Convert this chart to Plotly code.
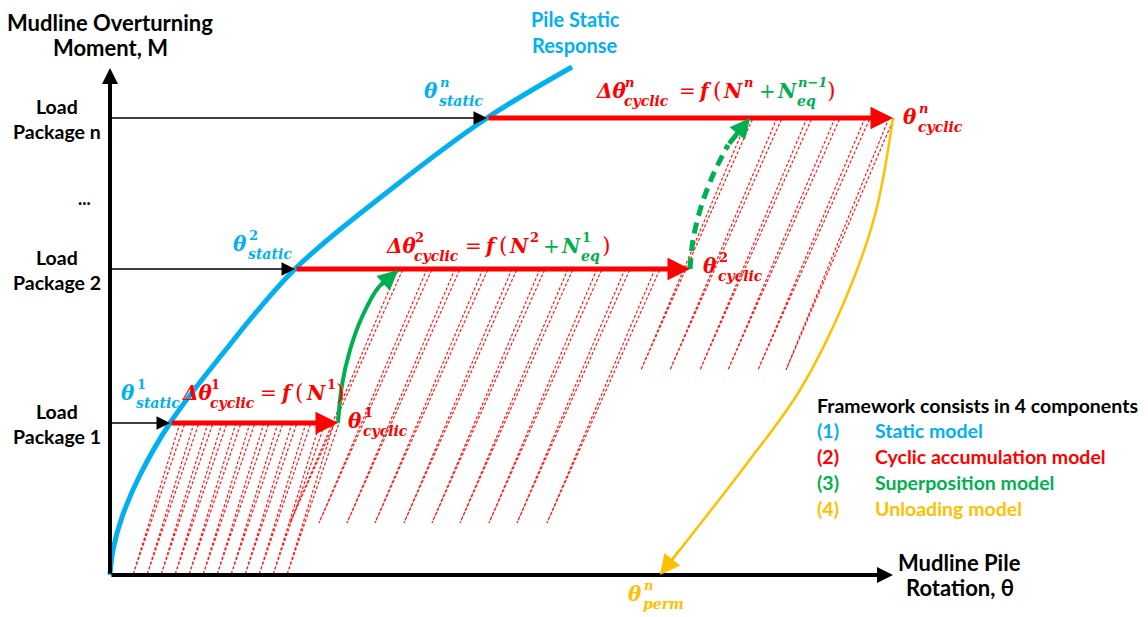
import plotly.graph_objects as go

# ---------------- data (rotation θ and moment M, origin at the axes corner) ----------------
load_labels = ["Load<br>Package 1", "Load<br>Package 2", "Load<br>Package n"]
load_M = [152, 306, 457]            # moment level of each load package
theta_static = [60, 185, 377]        # static rotation reached at each level
theta_cyclic = [228, 580, 783]       # rotation after cyclic accumulation
theta_perm = 550                     # permanent rotation after unloading
axis_theta_max = 783
axis_M_max = 507

# pile static response (backbone curve)
static_theta = [0, 3, 12, 30, 60, 110, 185, 280, 377, 462]
static_M = [0, 25, 58, 100, 152, 218, 306, 385, 457, 508]

# superposition paths between packages
sup1_theta = [228, 232, 240, 252, 268, 288]
sup1_M = [152, 190, 225, 258, 287, 305]
sup2_theta = [580, 583, 591, 603, 618, 640]
sup2_M = [306, 335, 368, 400, 430, 457]

# unloading path from the last package
unload_theta = [783, 765, 735, 690, 635, 550]
unload_M = [457, 360, 275, 185, 109, 0]

# individual load cycles: peak rotation on the load level, valley rotation at the trough
cyc1_peak = [70, 84, 98, 112, 126, 140, 154, 168, 182, 196, 210, 224]
cyc1_valley = [23, 37, 51, 65, 79, 93, 107, 121, 135, 149, 163, 177]
cyc1_trough_M = 0
cyc2_peak = [288, 317, 345, 373, 402, 430, 458, 487, 515, 545]
cyc2_valley = [180, 209, 237, 265, 294, 322, 350, 379, 407, 437]
cyc2_trough_M = 52
cycn_peak = [638, 667, 697, 725, 755, 779]
cycn_valley = [531, 560, 590, 618, 648, 676]
cycn_trough_M = 205

legend_items = [("(1)", "Static model"), ("(2)", "Cyclic accumulation model"),
                ("(3)", "Superposition model"), ("(4)", "Unloading model")]

BLUE, RED, GREEN, YELLOW, BLACK = "#00B0F0", "#FF0000", "#00B050", "#FFC000", "#000000"
SANS = "Lato"
SERIF = "DejaVu Serif"

# canvas placement of the origin
OX, OY = 110, 575


def X(px):
    return px - OX


def Y(py):
    return OY - py


fig = go.Figure()


# cyclic loops (thin dashed red): unload from the peak to the trough, reload to just past the peak
def loops(peaks, valleys, top_M, bot_M):
    xs, ys = [], []
    for p, v in zip(peaks, valleys):
        xs += [p, v, p + 5, None]
        ys += [top_M, bot_M, top_M, None]
    fig.add_trace(go.Scatter(x=xs, y=ys, mode="lines", opacity=0.9,
                             line=dict(color=RED, width=1.2, dash="3px,2px")))


loops(cyc1_peak, cyc1_valley, load_M[0], cyc1_trough_M)
loops(cyc2_peak, cyc2_valley, load_M[1], cyc2_trough_M)
loops(cycn_peak, cycn_valley, load_M[2], cycn_trough_M)

# static backbone
fig.add_trace(go.Scatter(x=static_theta, y=static_M, mode="lines", line_shape="spline",
                         line=dict(color=BLUE, width=5)))
# superposition
fig.add_trace(go.Scatter(x=sup1_theta, y=sup1_M, mode="lines", line_shape="spline",
                         line=dict(color=GREEN, width=4)))
fig.add_trace(go.Scatter(x=sup2_theta[:-1], y=sup2_M[:-1], mode="lines", line_shape="spline",
                         line=dict(color=GREEN, width=5, dash="11px,7px")))
# unloading
fig.add_trace(go.Scatter(x=unload_theta, y=unload_M, mode="lines", line_shape="spline",
                         line=dict(color=YELLOW, width=2.5)))

ann = []


def arrow(x0, y0, x1, y1, color, width, size, head=2):
    ann.append(dict(x=x1, y=y1, ax=x0, ay=y0, xref="x", yref="y", axref="x", ayref="y",
                    showarrow=True, arrowhead=head, arrowsize=size, arrowwidth=width,
                    arrowcolor=color, text=""))


def head_at_end(xs, ys, color, width, size, frac=0.35):
    # short segment along the last leg of a path, so only the head is added
    x0 = xs[-1] - (xs[-1] - xs[-2]) * frac
    y0 = ys[-1] - (ys[-1] - ys[-2]) * frac
    arrow(x0, y0, xs[-1], ys[-1], color, width, size)


# axes
arrow(0, 0, axis_theta_max, 0, BLACK, 4, 0.8)
arrow(0, 0, 0, axis_M_max, BLACK, 4, 0.8)
# load arrows and cyclic accumulation arrows
for m, ts, tc in zip(load_M, theta_static, theta_cyclic):
    arrow(0, m, ts, m, BLACK, 1.5, 1.8)
    arrow(ts, m, tc, m, RED, 5, 0.9)
# heads of the curved paths
head_at_end(sup1_theta, sup1_M, GREEN, 4, 1.0, 0.9)
arrow(sup2_theta[-2], sup2_M[-2], sup2_theta[-1], sup2_M[-1], GREEN, 5, 0.8)
head_at_end(unload_theta, unload_M, YELLOW, 2.5, 1.6, 0.25)


def text(px, py, s, color=BLACK, size=17, family=SANS, anchor="center", bold=True):
    ann.append(dict(x=X(px), y=Y(py), xref="x", yref="y", text=("<b>%s</b>" % s) if bold else s,
                    showarrow=False, xanchor=anchor, yanchor="middle",
                    font=dict(family=family, size=size, color=color)))


def math(px, py, s, color, size=20):
    # italic symbols, upright digits
    body = s if s.isdigit() else "<i>%s</i>" % s
    text(px, py, body, color, size, SERIF, "left")


def plain(px, py, s, color, size=20):
    text(px, py, s, color, size, SERIF, "left", bold=False)


# axis titles
text(110, 22, "Mudline Overturning", size=22)
text(110, 47, "Moment, M", size=22)
text(959, 562, "Mudline Pile", size=22)
text(960, 587, "Rotation, θ", size=22)
text(575, 19, "Pile Static", BLUE, 20)
text(575, 45, "Response", BLUE, 20)

# load package labels
for lbl, m in zip(load_labels, load_M):
    top, bottom = lbl.split("<br>")
    text(57, OY - m - 12, top, size=19.5)
    text(57, OY - m + 13, bottom, size=19.5)
text(84, 198, "...", size=18)

# framework list
text(815, 405, "Framework consists in 4 components", size=19.5, anchor="left")
for (num, name), col, py in zip(legend_items, [BLUE, RED, GREEN, YELLOW], [430, 456, 482, 508]):
    text(815, py, num, col, 19.5, anchor="left")
    text(873, py, name, col, 19.5, anchor="left")


def script(px, py, base, sup, sub, color, base_w=16, sub_color=None):
    math(px, py, base, color)
    math(px + base_w, py - 9, sup, sub_color or color, 13)
    math(px + base_w - 1, py + 10, sub, sub_color or color, 14)


# θ static
script(119, 393, "θ", "1", "static", BLUE)
script(231, 244, "θ", "2", "static", BLUE)
script(422, 91, "θ", "n", "static", BLUE)
# θ cyclic
script(346, 421, "θ", "1", "cyclic", RED)
script(701, 266, "θ", "2", "cyclic", RED)
script(901, 117, "θ", "n", "cyclic", RED)
# θ perm
script(626, 594, "θ", "n", "perm", YELLOW)

# Δθ cyclic equations
script(180, 393, "Δθ", "1", "cyclic", RED, base_w=29)
plain(258, 393, "=", RED)
math(278, 393, "f", RED)
plain(293, 392, "(", RED, 22)
math(304, 393, "N", RED)
math(325, 384, "1", RED, 13)
plain(334, 392, ")", RED, 22)

script(384, 246, "Δθ", "2", "cyclic", RED, base_w=29)
plain(463, 246, "=", RED)
math(482, 246, "f", RED)
plain(497, 245, "(", RED, 22)
math(507, 246, "N", RED)
math(528, 237, "2", RED, 13)
plain(541, 246, "+", GREEN)
math(559, 246, "N", GREEN)
script(559, 246, "", "1", "eq", GREEN, base_w=21)
plain(600, 245, ")", RED, 22)

script(594, 91, "Δθ", "n", "cyclic", RED, base_w=29)
plain(677, 91, "=", RED)
math(696, 91, "f", RED)
plain(711, 90, "(", RED, 22)
math(721, 91, "N", RED)
math(742, 82, "n", RED, 13)
plain(757, 91, "+", GREEN)
math(775, 91, "N", GREEN)
script(775, 91, "", "n−1", "eq", GREEN, base_w=21)
plain(825, 90, ")", RED, 22)

fig.update_layout(
    width=1148, height=617, margin=dict(l=0, r=0, t=0, b=0),
    paper_bgcolor="white", plot_bgcolor="white", showlegend=False,
    xaxis=dict(range=[X(0), X(1148)], visible=False, fixedrange=True),
    yaxis=dict(range=[Y(617), Y(0)], visible=False, fixedrange=True),
    annotations=ann,
)

fig.write_html("out.html")
